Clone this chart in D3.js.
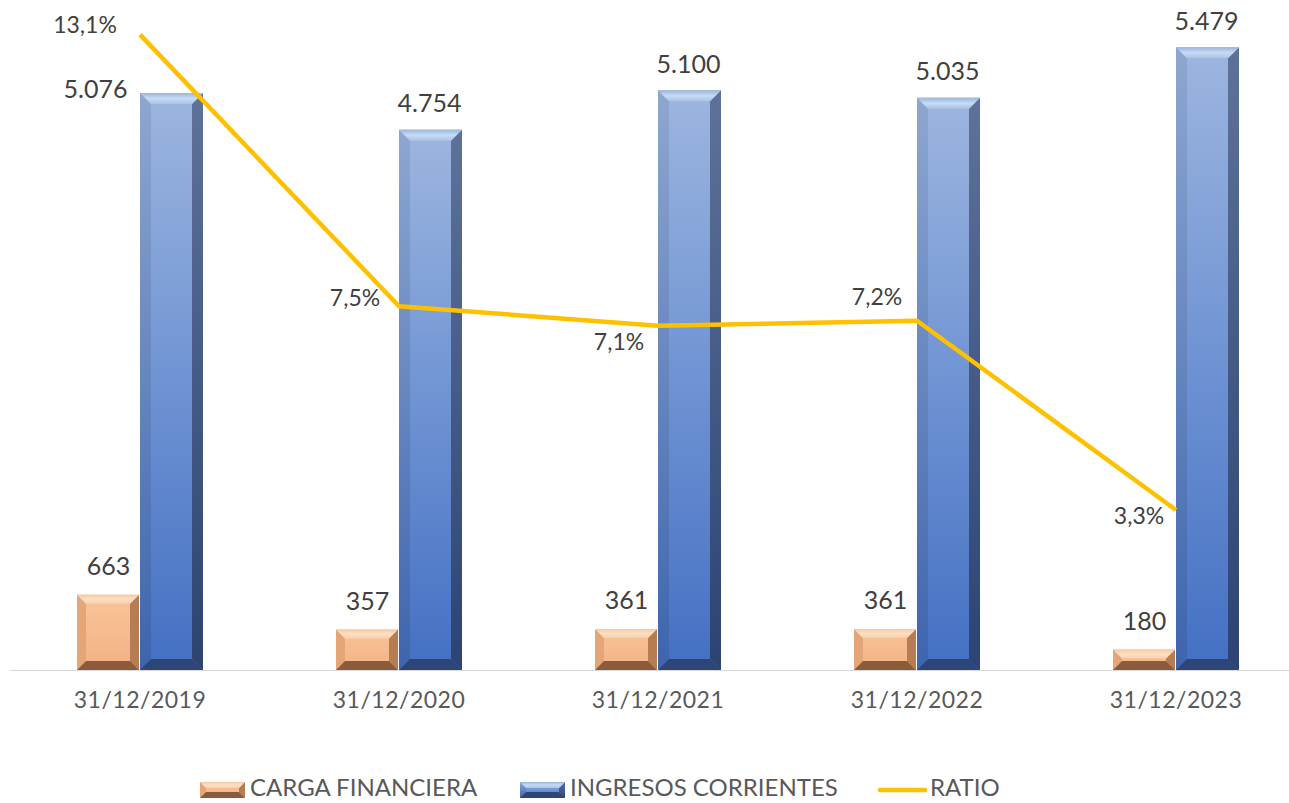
<!DOCTYPE html>
<html><head><meta charset="utf-8">
<script src="https://cdn.jsdelivr.net/npm/d3@7"></script>
<style>body{margin:0;background:#fff}svg{display:block}</style>
</head><body><svg id="c" width="1289" height="803"></svg>
<script>
const categories = ["31/12/2019","31/12/2020","31/12/2021","31/12/2022","31/12/2023"];
const cargaFinanciera = [663, 357, 361, 361, 180];
const ingresosCorrientes = [5076, 4754, 5100, 5035, 5479];
const ratio = [13.1, 7.5, 7.1, 7.2, 3.3];
const ratioLabels = ["13,1%","7,5%","7,1%","7,2%","3,3%"];
const seriesNames = ["CARGA FINANCIERA","INGRESOS CORRIENTES","RATIO"];

const svg = d3.select("#c");
const FONT = "Lato, 'Open Sans', sans-serif";
const x = d3.scaleBand().domain(categories).range([10.5, 1305.5]);
const xs = d3.scaleBand().domain([0,1]).range([-63, 63]);
const y = d3.scaleLinear().domain([0, 6000]).range([670, -12]);
const y2 = d3.scaleLinear().domain([0, 14]).range([670, 670 - 14*48.5]);

const defs = svg.append("defs");
function grad(id, stops, vertical=true){
  const g = defs.append("linearGradient").attr("id", id)
    .attr("x1",0).attr("y1",0).attr("x2", vertical?0:1).attr("y2", vertical?1:0);
  stops.forEach(s=>g.append("stop").attr("offset",s[0]).attr("stop-color",s[1]));
}
grad("bMain", [[0,"#9db6df"],[0.5,"#6f93d3"],[1,"#4470c3"]]);
grad("bLeft", [[0,"#8ea7d0"],[1,"#3e64ad"]]);
grad("bRight",[[0,"#5e7299"],[1,"#2c4373"]]);
grad("bTop",  [[0,"#9cb4da"],[0.5,"#c7dbf4"],[1,"#a9c2e8"]]);
grad("oMain", [[0,"#f8c49a"],[1,"#f4b183"]]);
grad("oTop",  [[0,"#f8c8a0"],[0.5,"#fde0c4"],[1,"#f9cfa9"]]);
const pal = {
  o:{main:"url(#oMain)", top:"url(#oTop)", left:"#e4a676", right:"#b67c52", bottom:"#8b5b3b"},
  b:{main:"url(#bMain)", top:"url(#bTop)", left:"url(#bLeft)", right:"url(#bRight)", bottom:"#2d4677"}
};

// baseline
svg.append("line").attr("x1",10).attr("x2",1289).attr("y1",y(0)+0.5).attr("y2",y(0)+0.5)
  .attr("stroke","#d9d9d9").attr("stroke-width",1);

function bevelBar(g, x0, x1, y0, y1, p, bmax){
  const b = Math.min(bmax, (y1-y0)/2, (x1-x0)/2);
  const P = pts => pts.map(d=>d.join(",")).join(" ");
  g.append("rect").attr("x",x0).attr("y",y0).attr("width",x1-x0).attr("height",y1-y0).attr("fill",p.main);
  g.append("polygon").attr("points",P([[x0,y0],[x0+b,y0+b],[x0+b,y1-b],[x0,y1]])).attr("fill",p.left);
  g.append("polygon").attr("points",P([[x1,y0],[x1-b,y0+b],[x1-b,y1-b],[x1,y1]])).attr("fill",p.right);
  g.append("polygon").attr("points",P([[x0,y1],[x1,y1],[x1-b,y1-b],[x0+b,y1-b]])).attr("fill",p.bottom);
  g.append("polygon").attr("points",P([[x0,y0],[x1,y0],[x1-b,y0+b],[x0+b,y0+b]])).attr("fill",p.top);
}

const bars = svg.append("g");
categories.forEach((c,i)=>{
  const cx = x(c) + x.bandwidth()/2;
  bevelBar(bars, cx+xs(0), cx+xs(0)+xs.bandwidth()-1, y(cargaFinanciera[i]), y(0), pal.o, 9);
  bevelBar(bars, cx+xs(1), cx+xs(1)+xs.bandwidth(), y(ingresosCorrientes[i]), y(0), pal.b, 11);
});

// ratio line
const line = d3.line().x((d,i)=>x(categories[i])+x.bandwidth()/2).y(d=>y2(d));
svg.append("path").datum(ratio).attr("d",line).attr("fill","none")
  .attr("stroke","#ffc000").attr("stroke-width",4.5).attr("stroke-linejoin","round");

// labels
const fmt = v => d3.format(",")(v).replace(/,/g,".");
const lab = svg.append("g").attr("font-family",FONT).attr("fill","#404040");
const bOff = [[-76,-1],[-1,-24],[-1,-24],[-1,-24],[-1,-24]];
categories.forEach((c,i)=>{
  const cx = x(c)+x.bandwidth()/2;
  const bx = cx + xs(1) + xs.bandwidth()/2;
  lab.append("text").attr("x",bx+bOff[i][0]).attr("y",y(ingresosCorrientes[i])+bOff[i][1])
    .attr("text-anchor","middle").attr("dominant-baseline","middle").attr("font-size",25)
    .text(fmt(ingresosCorrientes[i]));
  const ox = cx + xs(0) + xs.bandwidth()/2;
  lab.append("text").attr("x",ox).attr("y",y(cargaFinanciera[i])-26)
    .attr("text-anchor","middle").attr("dominant-baseline","middle").attr("font-size",25)
    .text(cargaFinanciera[i]);
});
const rOff = [[-55,-7],[-44,-6],[-39,19],[-40,-22],[-37,8]];
ratio.forEach((r,i)=>{
  const px = x(categories[i])+x.bandwidth()/2;
  lab.append("text").attr("x",px+rOff[i][0]).attr("y",y2(r)+rOff[i][1])
    .attr("text-anchor","middle").attr("dominant-baseline","middle").attr("font-size",23)
    .text(ratioLabels[i]);
});

// x axis
const ax = svg.append("g").attr("transform",`translate(0,${y(0)})`)
  .call(d3.axisBottom(x).tickSize(0).tickPadding(22));
ax.select(".domain").remove();
ax.selectAll("text").attr("font-family",FONT).attr("font-size",23).attr("fill","#595959")
  .attr("letter-spacing","0.5px");

// legend
const leg = svg.append("g").attr("font-family",FONT).attr("font-size",24).attr("fill","#595959");
const legX = [200, 520, 880];
function legSwatch(x0, p){
  bevelBar(leg, x0, x0+45, 782, 798, p, 6);
}
legSwatch(legX[0], pal.o);
legSwatch(legX[1], pal.b);
leg.append("line").attr("x1",legX[2]).attr("x2",legX[2]+45).attr("y1",790).attr("y2",790)
  .attr("stroke","#ffc000").attr("stroke-width",4.5).attr("stroke-linecap","round");
seriesNames.forEach((n,i)=>{
  leg.append("text").attr("x",legX[i]+50).attr("y",790).attr("dominant-baseline","middle").text(n);
});
</script></body></html>
